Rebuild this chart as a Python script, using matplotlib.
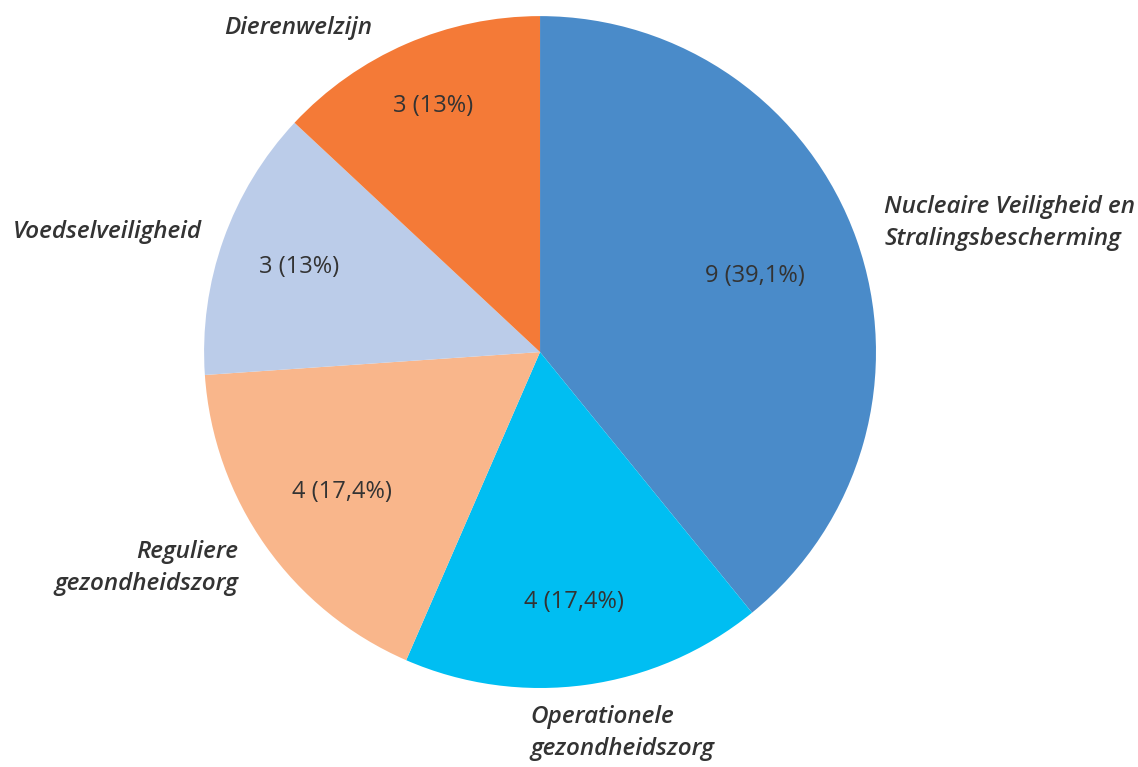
import numpy as np
import matplotlib.pyplot as plt

categories = ['Nucleaire Veiligheid en\nStralingsbescherming', 'Operationele\ngezondheidszorg',
              'Reguliere\ngezondheidszorg', 'Voedselveiligheid', 'Dierenwelzijn']
counts = [9, 4, 4, 3, 3]
pct_text = ['39,1%', '17,4%', '17,4%', '13%', '13%']
colors = ['#4A8BC9', '#00BEF2', '#F9B68B', '#BBCCE9', '#F47A37']

# label placement (pie radius units)
label_pos = [(1.024, 0.384), (-0.03, -1.134), (-0.899, -0.643), (-1.289, 0.357), (-0.72, 0.964)]
label_ha = ['left', 'left', 'right', 'center', 'center']
value_dist = [0.68, 0.75, 0.72, 0.76, 0.80]

fig = plt.figure(figsize=(11.38, 7.67), dpi=100)
ax = fig.add_axes([0.1793, 0.103, 0.5905, 0.876])
wedges, _ = ax.pie(counts, colors=colors, startangle=90, counterclock=False, radius=1)
ax.set_xlim(-1, 1)
ax.set_ylim(-1, 1)
ax.set_aspect('equal')
ax.axis('off')

for i, w in enumerate(wedges):
    mid = np.deg2rad((w.theta1 + w.theta2) / 2)
    d = value_dist[i]
    ax.text(d * np.cos(mid), d * np.sin(mid), f'{counts[i]} ({pct_text[i]})',
            ha='center', va='center', fontsize=17, color='#333333', family='Open Sans')
    x, y = label_pos[i]
    ax.text(x, y, categories[i], ha=label_ha[i], va='center', multialignment=label_ha[i],
            fontsize=17.5, style='italic', fontweight='semibold', color='#333333',
            family='Open Sans', linespacing=1.45, clip_on=False)

fig.savefig('out.png', dpi=100, facecolor='white')
